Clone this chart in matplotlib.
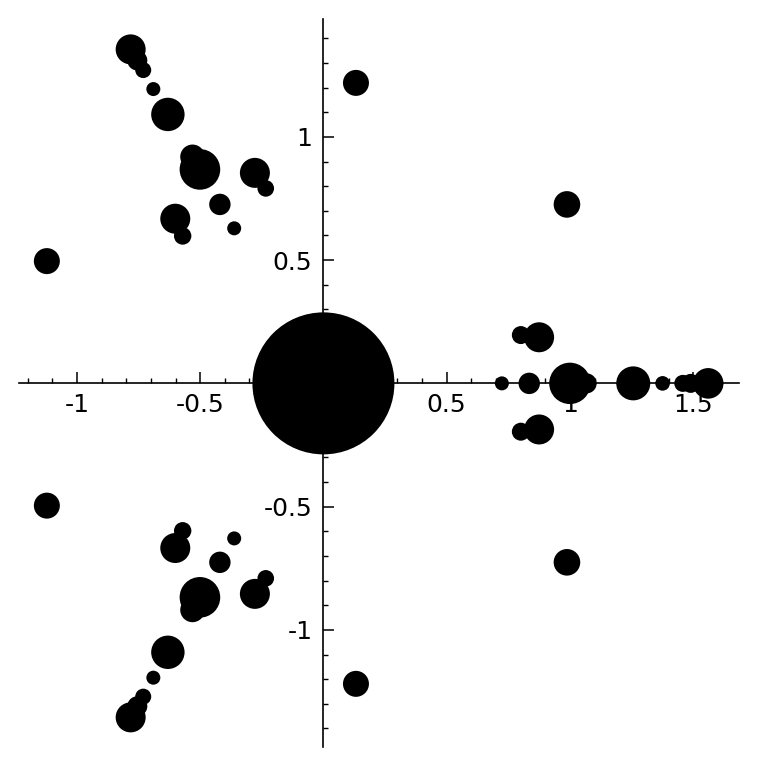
import matplotlib
matplotlib.use("Agg")
import matplotlib.pyplot as plt
from matplotlib.ticker import MultipleLocator, FixedLocator, FixedFormatter

# Point data: x (real part), y (imag part), radius (pixels)
xs = [0.0,
      -0.782, -0.755, -0.731, -0.690, -0.631, -0.531, -0.501, -0.278, -0.234,
      -0.420, -0.601, -0.571, -0.362, -1.122, 0.132, 0.988, 0.801, 0.875,
      -0.782, -0.755, -0.731, -0.690, -0.631, -0.531, -0.501, -0.278, -0.234,
      -0.420, -0.601, -0.571, -0.362, -1.122, 0.132, 0.988, 0.801, 0.875,
      0.724, 0.835, 1.000, 1.068, 1.257, 1.376, 1.458, 1.490, 1.561]
ys = [0.0,
      1.355, 1.310, 1.271, 1.194, 1.091, 0.919, 0.868, 0.854, 0.791,
      0.726, 0.668, 0.598, 0.629, 0.496, 1.219, 0.726, 0.196, 0.187,
      -1.355, -1.310, -1.271, -1.194, -1.091, -0.919, -0.868, -0.854, -0.791,
      -0.726, -0.668, -0.598, -0.629, -0.496, -1.219, -0.726, -0.196, -0.187,
      0.0, 0.0, 0.0, 0.0, 0.0, 0.0, 0.0, 0.0, 0.0]
radii = [71,
         15, 10, 8, 7, 16.7, 12.3, 20.3, 15, 8.3,
         10.7, 15, 8.7, 7, 13, 13, 13.3, 9, 15,
         15, 10, 8, 7, 16.7, 12.3, 20.3, 15, 8.3,
         10.7, 15, 8.7, 7, 13, 13, 13.3, 9, 15,
         7, 10.7, 20.7, 10, 17, 7.3, 8.5, 9.5, 15.3]

x_ticks = [-1, -0.5, 0.5, 1, 1.5]
x_labels = ["-1", "-0.5", "0.5", "1", "1.5"]
y_ticks = [-1, -0.5, 0.5, 1]
y_labels = ["-1", "-0.5", "0.5", "1"]

W, H, DPI = 758, 767, 100
fig = plt.figure(figsize=(W / DPI, H / DPI), dpi=DPI)
ax = fig.add_axes([19 / W, (H - 746.7) / H, 720 / W, 727.4 / H])
ax.set_xlim(-1.235, 1.686)
ax.set_ylim(-1.474, 1.477)

sizes = [(2 * r * 72 / DPI) ** 2 for r in radii]
ax.scatter(xs, ys, s=sizes, c="black", edgecolors="none", zorder=3)

for s in ["top", "right"]:
    ax.spines[s].set_visible(False)
ax.spines["left"].set_position(("data", 0))
ax.spines["bottom"].set_position(("data", 0))
for s in ["left", "bottom"]:
    ax.spines[s].set_linewidth(1.2)
    ax.spines[s].set_zorder(2)

ax.xaxis.set_major_locator(FixedLocator(x_ticks))
ax.xaxis.set_major_formatter(FixedFormatter(x_labels))
ax.yaxis.set_major_locator(FixedLocator(y_ticks))
ax.yaxis.set_major_formatter(FixedFormatter(y_labels))
ax.xaxis.set_minor_locator(MultipleLocator(0.1))
ax.yaxis.set_minor_locator(MultipleLocator(0.1))
ax.tick_params(which="major", direction="in", length=8, width=1.1,
               labelsize=18, pad=8)
ax.tick_params(which="minor", direction="in", length=3.8, width=1.0)
ax.tick_params(axis="x", pad=7)

fig.savefig("out.png", dpi=DPI)
